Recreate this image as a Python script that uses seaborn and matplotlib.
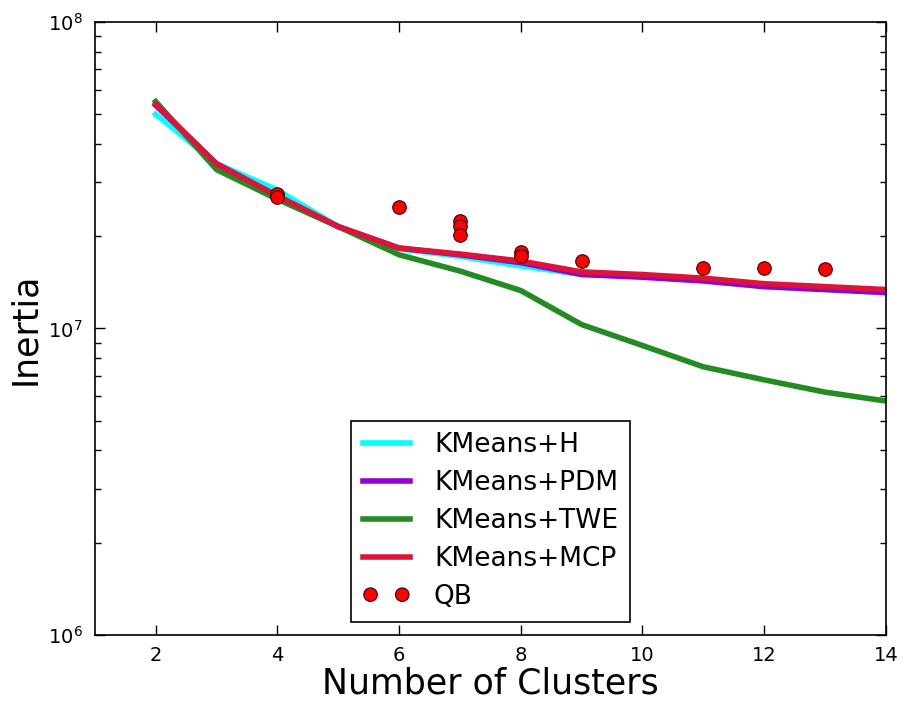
import numpy as np
import pandas as pd
import matplotlib
matplotlib.use("Agg")
import matplotlib.pyplot as plt
import seaborn as sns
from matplotlib.ticker import LogLocator, FixedLocator

clusters = [2, 3, 4, 5, 6, 7, 8, 9, 10, 11, 12, 13, 14]
kmeans_h = [5.0e7, 3.45e7, 2.83e7, 2.15e7, 1.82e7, 1.72e7, 1.60e7, 1.50e7, 1.48e7, 1.43e7, 1.37e7, 1.34e7, 1.31e7]
kmeans_pdm = [5.35e7, 3.45e7, 2.70e7, 2.15e7, 1.83e7, 1.74e7, 1.64e7, 1.50e7, 1.47e7, 1.43e7, 1.37e7, 1.34e7, 1.31e7]
kmeans_twe = [5.5e7, 3.30e7, 2.64e7, 2.15e7, 1.74e7, 1.54e7, 1.33e7, 1.03e7, 8.8e6, 7.5e6, 6.8e6, 6.2e6, 5.8e6]
kmeans_mcp = [5.4e7, 3.44e7, 2.71e7, 2.15e7, 1.83e7, 1.75e7, 1.66e7, 1.53e7, 1.50e7, 1.46e7, 1.40e7, 1.37e7, 1.34e7]
qb_x = [4, 4, 6, 7, 7, 7, 8, 8, 9, 11, 12, 13]
qb_y = [2.75e7, 2.68e7, 2.49e7, 2.25e7, 2.16e7, 2.02e7, 1.77e7, 1.73e7, 1.66e7, 1.58e7, 1.58e7, 1.56e7]
x_ticks = [2, 4, 6, 8, 10, 12, 14]

series = [
    ("KMeans+H", kmeans_h, "#00FFFF"),
    ("KMeans+PDM", kmeans_pdm, "#9400D3"),
    ("KMeans+TWE", kmeans_twe, "#228B22"),
    ("KMeans+MCP", kmeans_mcp, "#DC143C"),
]

plt.rcParams['font.family'] = ['DejaVu Sans']
plt.rcParams['mathtext.fontset'] = 'dejavusans'

fig = plt.figure(figsize=(9.03, 7.05), dpi=100)
ax = fig.add_axes([0.105, 0.0993, 0.876, 0.8695])

for name, vals, col in series:
    df = pd.DataFrame({"x": clusters, "y": vals})
    sns.lineplot(data=df, x="x", y="y", color=col, linewidth=4, label=name, ax=ax,
                 estimator=None, sort=False)

qdf = pd.DataFrame({"x": qb_x, "y": qb_y})
sns.scatterplot(data=qdf, x="x", y="y", color="#FF0000", edgecolor="#3a0000", linewidth=0.8,
                s=95, label="QB", ax=ax, zorder=5)

ax.set_yscale("log")
ax.set_xlim(1, 14)
ax.set_ylim(1e6, 1e8)
ax.xaxis.set_major_locator(FixedLocator(x_ticks))
ax.yaxis.set_major_locator(LogLocator(base=10, numticks=5))
ax.yaxis.set_minor_locator(LogLocator(base=10, subs=np.arange(2, 10), numticks=20))
ax.tick_params(which="both", direction="in", top=True, right=True, labelsize=14, colors="black")
ax.tick_params(which="major", length=7, width=1)
ax.tick_params(which="minor", length=4, width=1)
ax.tick_params(axis="y", pad=9)
ax.tick_params(axis="x", pad=8)
for sp in ax.spines.values():
    sp.set_linewidth(1.2)
    sp.set_color("black")
ax.set_facecolor("white")
ax.grid(False)

ax.set_xlabel("Number of Clusters", fontsize=25, labelpad=1)
ax.set_ylabel("Inertia", fontsize=25)

leg = ax.legend(loc="lower center", fontsize=19, scatterpoints=2, scatteryoffsets=[0.5],
                frameon=True, fancybox=False, edgecolor="black", framealpha=1,
                handlelength=1.8, handletextpad=0.9, borderpad=0.45, labelspacing=0.45,
                borderaxespad=0.5)
leg.get_frame().set_linewidth(1.2)

fig.savefig("out.png", dpi=100, facecolor="white")
